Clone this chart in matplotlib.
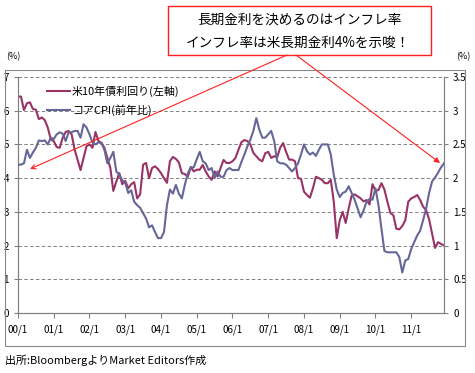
import numpy as np
import matplotlib
matplotlib.use("Agg")
import matplotlib.pyplot as plt
from matplotlib.lines import Line2D
from matplotlib.patches import Rectangle, FancyArrowPatch

plt.rcParams['font.family'] = ['Noto Sans CJK JP', 'DejaVu Sans']

# ---- data (monthly, 2000/1 - 2011/12) ----
tick_labels = ["00/1", "01/1", "02/1", "03/1", "04/1", "05/1",
               "06/1", "07/1", "08/1", "09/1", "10/1", "11/1"]

# US 10-year Treasury yield (%, left axis)
us10y = [
    6.42, 6.42, 6.02, 6.22, 6.25, 6.05, 6.03, 5.75, 5.80, 5.72, 5.50, 5.15,
    5.10, 4.92, 4.90, 5.20, 5.37, 5.40, 5.30, 4.85, 4.55, 4.24, 4.60, 4.95,
    5.00, 4.90, 5.37, 5.10, 5.05, 4.90, 4.60, 4.30, 3.62, 3.90, 4.15, 3.82,
    3.92, 3.70, 3.82, 3.88, 3.40, 3.52, 4.40, 4.45, 4.00, 4.30, 4.35, 4.27,
    4.15, 4.00, 3.86, 4.50, 4.63, 4.57, 4.47, 4.15, 4.12, 4.04, 4.33, 4.20,
    4.25, 4.25, 4.39, 4.20, 4.05, 3.95, 4.20, 4.05, 4.30, 4.54, 4.45, 4.45,
    4.50, 4.60, 4.84, 5.07, 5.13, 5.10, 5.00, 4.75, 4.65, 4.55, 4.50, 4.74,
    4.78, 4.60, 4.65, 4.62, 4.90, 5.04, 4.78, 4.55, 4.55, 4.50, 4.00, 3.98,
    3.60, 3.50, 3.42, 3.70, 4.04, 4.00, 3.95, 3.85, 3.85, 3.95, 3.30, 2.22,
    2.75, 3.00, 2.67, 3.10, 3.48, 3.52, 3.46, 3.40, 3.31, 3.35, 3.22, 3.82,
    3.62, 3.65, 3.85, 3.66, 3.30, 2.97, 2.90, 2.50, 2.48, 2.58, 2.75, 3.30,
    3.40, 3.44, 3.50, 3.35, 3.15, 3.05, 2.78, 2.35, 1.93, 2.10, 2.05, 2.00,
]

# US core CPI, year over year (%, right axis)
core_cpi = [
    2.20, 2.20, 2.22, 2.42, 2.30, 2.38, 2.45, 2.56, 2.55, 2.56, 2.50, 2.60,
    2.58, 2.65, 2.68, 2.66, 2.55, 2.68, 2.68, 2.70, 2.70, 2.60, 2.80, 2.75,
    2.65, 2.53, 2.50, 2.53, 2.52, 2.42, 2.22, 2.30, 2.39, 2.10, 2.05, 1.97,
    1.93, 1.78, 1.82, 1.65, 1.60, 1.56, 1.48, 1.40, 1.27, 1.30, 1.20, 1.11,
    1.11, 1.20, 1.60, 1.83, 1.77, 1.90, 1.77, 1.70, 1.90, 2.07, 2.16, 2.16,
    2.28, 2.39, 2.25, 2.22, 2.12, 2.15, 2.00, 2.10, 2.02, 2.02, 2.12, 2.15,
    2.12, 2.12, 2.12, 2.24, 2.35, 2.47, 2.57, 2.70, 2.89, 2.72, 2.60, 2.60,
    2.65, 2.70, 2.55, 2.25, 2.22, 2.22, 2.20, 2.15, 2.10, 2.15, 2.22, 2.35,
    2.50, 2.40, 2.35, 2.38, 2.33, 2.42, 2.50, 2.50, 2.50, 2.35, 2.05, 1.83,
    1.72, 1.78, 1.80, 1.88, 1.78, 1.68, 1.55, 1.42, 1.52, 1.65, 1.69, 1.68,
    1.85, 1.60, 1.25, 0.92, 0.90, 0.90, 0.90, 0.90, 0.83, 0.60, 0.78, 0.80,
    0.95, 1.05, 1.15, 1.22, 1.38, 1.55, 1.78, 1.95, 2.01, 2.08, 2.16, 2.22,
]

legend_labels = ["米10年債利回り(左軸)", "コアCPI(前年比)"]
title_lines = ["長期金利を決めるのはインフレ率", "インフレ率は米長期金利4%を示唆！"]
source_text = "出所:BloombergよりMarket Editors作成"

# ---- layout ----
W, H = 475, 373
fig = plt.figure(figsize=(W / 100, H / 100), dpi=100)
fig.patch.set_facecolor("white")

def fx(px):
    return px / W

def fy(py):
    return 1 - py / H

c_yield = "#993366"
c_cpi = "#666699"
c_grid = "#808080"
c_red = "#FF2020"

# outer chart border
fig.add_artist(Rectangle((fx(5), fy(346)), fx(465) - fx(5), fy(70) - fy(346),
                         transform=fig.transFigure, fill=False,
                         edgecolor="#888888", lw=0.8))

ax = fig.add_axes([fx(18), fy(313), fx(444) - fx(18), fy(77) - fy(313)])
ax2 = ax.twinx()

x = np.arange(len(us10y))
ax.plot(x, us10y, color=c_yield, lw=1.5, solid_joinstyle="round", zorder=3)
ax2.plot(x, core_cpi, color=c_cpi, lw=1.5, solid_joinstyle="round", zorder=3)

ax.set_xlim(0, len(us10y) - 1)
ax.set_ylim(0, 7)
ax2.set_ylim(0, 3.5)

ax.set_yticks(np.arange(0, 8, 1))
ax.set_yticklabels([str(v) for v in range(0, 8)])
ax2.set_yticks(np.arange(0, 3.51, 0.5))
ax2.set_yticklabels(["0", "0.5", "1", "1.5", "2", "2.5", "3", "3.5"])
ax.set_xticks(np.arange(0, len(us10y), 12))
ax.set_xticklabels(tick_labels)

for a in (ax, ax2):
    for s in a.spines.values():
        s.set_color(c_grid)
        s.set_linewidth(0.8)
    a.spines["top"].set_visible(False)

ax.tick_params(axis="y", direction="out", length=3, width=0.8, color=c_grid,
               labelsize=7, pad=3.5)
ax2.tick_params(axis="y", direction="out", length=3, width=0.8, color=c_grid,
                labelsize=7, pad=3.5)
ax.tick_params(axis="x", direction="out", length=3.5, width=0.8, color=c_grid,
               labelsize=7, pad=5)

for v in range(1, 8):
    ax.axhline(v, color=c_grid, lw=0.7, ls=(0, (3.5, 2.5)), zorder=1)

# legend
leg_items = [(91, c_yield, legend_labels[0]), (110, c_cpi, legend_labels[1])]
for py, col, lab in leg_items:
    fig.add_artist(Line2D([fx(47), fx(70)], [fy(py), fy(py)], color=col, lw=1.5,
                          transform=fig.transFigure))
    fig.text(fx(72), fy(py), lab, fontsize=7.9, va="center", ha="left")

# (%) labels
fig.text(fx(13), fy(57), "(%)", fontsize=6.5, ha="center", va="center")
fig.text(fx(463), fy(57), "(%)", fontsize=6.5, ha="center", va="center")

# title box
fig.add_artist(Rectangle((fx(168), fy(55)), fx(431) - fx(168), fy(6) - fy(55),
                         transform=fig.transFigure, facecolor="white",
                         edgecolor=c_red, lw=1.0, zorder=5))
fig.text(fx(299), fy(20), title_lines[0], fontsize=9.8, ha="center", va="center", zorder=6)
fig.text(fx(298), fy(43), title_lines[1], fontsize=9.8, ha="center", va="center", zorder=6)

# arrows
fig.add_artist(FancyArrowPatch((fx(287), fy(55)), (fx(30), fy(169)),
                               transform=fig.transFigure, arrowstyle="->",
                               mutation_scale=8, color=c_red, lw=0.8,
                               shrinkA=0, shrinkB=0, zorder=7))
fig.add_artist(FancyArrowPatch((fx(296), fy(55)), (fx(440), fy(163)),
                               transform=fig.transFigure, arrowstyle="-|>",
                               mutation_scale=8, color=c_red, lw=0.8,
                               shrinkA=0, shrinkB=0, zorder=7))

# source
fig.text(fx(5), fy(360), source_text, fontsize=7.9, ha="left", va="center")

fig.savefig("out.png", dpi=100, facecolor="white")
